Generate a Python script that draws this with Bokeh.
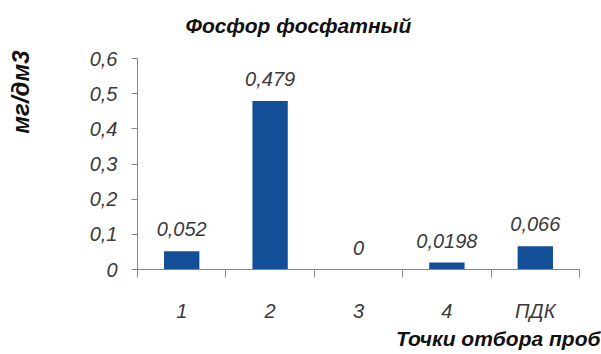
from bokeh.plotting import figure
from bokeh.models import ColumnDataSource, FixedTicker, LinearAxis, Range1d, Title
from bokeh.core.properties import value
from bokeh.embed import file_html
from bokeh.resources import INLINE

# Sampling points and phosphate phosphorus concentration (mg/dm3)
points = ["1", "2", "3", "4", "ПДК"]
concentrations = [0.052, 0.479, 0.0, 0.0198, 0.066]
value_labels = ["0,052", "0,479", "0", "0,0198", "0,066"]
y_ticks = [0, 0.1, 0.2, 0.3, 0.4, 0.5, 0.6]
y_tick_labels = ["0", "0,1", "0,2", "0,3", "0,4", "0,5", "0,6"]

positions = list(range(1, len(points) + 1))
source = ColumnDataSource(dict(x=positions, top=concentrations, label=value_labels))

FONT = "Liberation Sans"
TEXT = "#3a3a3a"
AXIS = "#868686"

p = figure(
    width=601, height=354,
    x_range=Range1d(0.5, len(points) + 0.5),
    y_range=Range1d(0, 0.6),
    output_backend="svg", toolbar_location=None,
    min_border_left=137, min_border_right=22,
    min_border_top=58, min_border_bottom=85,
)
p.outline_line_color = None
p.grid.visible = False
p.background_fill_color = "white"
p.border_fill_color = "white"

p.vbar(x="x", top="top", width=0.4, source=source,
       fill_color="#134f97", line_color=None)

p.text(x="x", y="top", text="label", source=source,
       text_font=value(FONT), text_font_style="italic", text_font_size="20px",
       text_color=TEXT, text_align="center", text_baseline="middle", y_offset=-22)

# x axis: category labels at bar centres, tick marks between categories
xa = p.xaxis[0]
xa.ticker = FixedTicker(ticks=positions,
                        minor_ticks=[i + 0.5 for i in range(0, len(points) + 1)])
xa.major_label_overrides = {i: name for i, name in zip(positions, points)}
xa.major_tick_out = 0
xa.major_tick_in = 0
xa.minor_tick_out = 8
xa.minor_tick_in = 0
xa.minor_tick_line_color = AXIS
xa.axis_line_color = AXIS
xa.major_label_standoff = 22
xa.major_label_text_font = FONT
xa.major_label_text_font_style = "italic"
xa.major_label_text_font_size = "20px"
xa.major_label_text_color = TEXT

ya = p.yaxis[0]
ya.ticker = FixedTicker(ticks=y_ticks, minor_ticks=[])
ya.major_label_overrides = {t: s for t, s in zip(y_ticks, y_tick_labels)}
ya.major_tick_out = 6
ya.major_tick_in = 0
ya.major_tick_line_color = AXIS
ya.axis_line_color = AXIS
ya.major_label_standoff = 14
ya.major_label_text_font = FONT
ya.major_label_text_font_style = "italic"
ya.major_label_text_font_size = "20px"
ya.major_label_text_color = TEXT


def spacer_axis(size, tick):
    """A blank axis (one white tick, no labels) that reserves `size` px of margin."""
    ax = LinearAxis(ticker=FixedTicker(ticks=[tick], minor_ticks=[]))
    ax.axis_line_color = None
    ax.major_tick_line_color = "white"
    ax.minor_tick_line_color = None
    ax.major_tick_out = size
    ax.major_tick_in = 0
    ax.minor_tick_out = 0
    ax.minor_tick_in = 0
    ax.major_label_standoff = 0
    ax.major_label_text_font_size = "0px"
    ax.major_label_overrides = {tick: ""}
    return ax


# margin between the y tick labels and the y axis title
p.add_layout(spacer_axis(53, 0.3), "left")
# margin between the plot area and the chart title
p.add_layout(spacer_axis(22, 3), "above")

p.title.text = "Фосфор фосфатный"
p.title.text_font = FONT
p.title.text_font_style = "bold italic"
p.title.text_font_size = "21px"
p.title.text_color = "#111111"
p.title.align = "left"
p.title.offset = 48
p.title.standoff = 0

# axis titles, placed toward the top / right ends of their axes
ytitle = Title(text="мг/дм3", align="right", offset=-8, standoff=0,
               text_font=FONT, text_font_style="bold italic",
               text_font_size="24px", text_color="#111111")
p.add_layout(ytitle, "left")

xtitle = Title(text="Точки отбора проб", align="right", offset=-21, standoff=0,
               text_font=FONT, text_font_style="bold italic",
               text_font_size="21px", text_color="#111111")
p.add_layout(xtitle, "below")

open("out.html", "w").write(file_html(p, INLINE))
